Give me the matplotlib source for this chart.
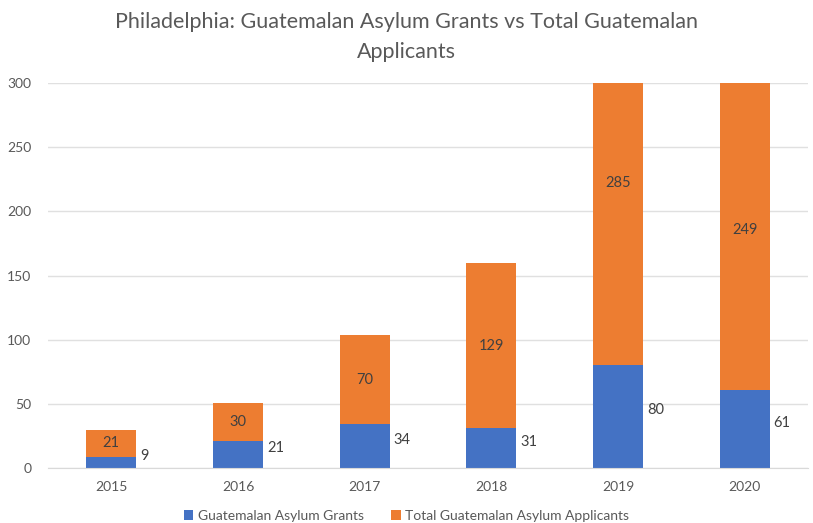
import numpy as np
import matplotlib.pyplot as plt

years = ['2015', '2016', '2017', '2018', '2019', '2020']
grants = [9, 21, 34, 31, 80, 61]
applicants = [21, 30, 70, 129, 285, 249]

plt.rcParams['font.family'] = ['Lato', 'DejaVu Sans']

fig = plt.figure(figsize=(8.13, 5.23), dpi=100)
ax = fig.add_axes([0.059, 0.105, 0.935, 0.736])

x = np.arange(len(years))
w = 0.395
blue = '#4472C4'
orange = '#ED7D31'
ax.bar(x, grants, w, color=blue, label='Guatemalan Asylum Grants', zorder=2)
ax.bar(x, applicants, w, bottom=grants, color=orange,
       label='Total Guatemalan Asylum Applicants', zorder=2)

txt = '#404040'
for i in range(len(years)):
    # grants label sits just right of the bar
    ax.text(x[i] + w / 2 + 0.03, grants[i] / 2 + 5, str(grants[i]),
            ha='left', va='center', fontsize=10.5, color=txt)
    ax.text(x[i], grants[i] + applicants[i] / 2, str(applicants[i]),
            ha='center', va='center', fontsize=10.5, color=txt)

ax.set_ylim(0, 300)
ax.set_xlim(-0.5, len(years) - 0.5)
ax.set_yticks(range(0, 301, 50))
ax.set_xticks(x)
ax.set_xticklabels(years)
ax.tick_params(axis='both', length=0, labelsize=10, colors='#595959')
ax.tick_params(axis='y', pad=12)
ax.tick_params(axis='x', pad=9)
ax.grid(axis='y', color='#e0e0e0', linewidth=1, zorder=0)
for s in ['top', 'right', 'left']:
    ax.spines[s].set_visible(False)
ax.spines['bottom'].set_color('#d9d9d9')

fig.suptitle('Philadelphia: Guatemalan Asylum Grants vs Total Guatemalan\nApplicants',
             fontsize=15.5, color='#595959', y=0.977, linespacing=1.65)

fig.legend(loc='lower center', bbox_to_anchor=(0.5, -0.022), ncol=2, frameon=False,
           fontsize=10, handlelength=0.7, handleheight=0.7, handletextpad=0.3,
           columnspacing=2.0, labelcolor='#595959')

fig.savefig('out.png', dpi=100)
